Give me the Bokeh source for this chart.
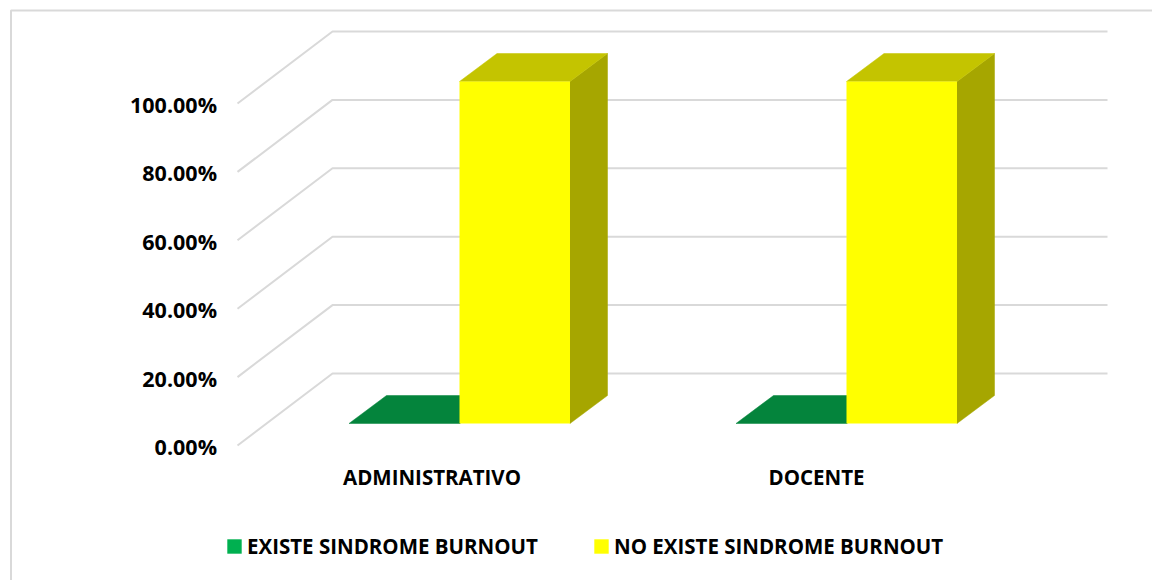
from bokeh.core.properties import value
from bokeh.embed import file_html
from bokeh.models import Legend, LegendItem, Range1d
from bokeh.plotting import figure
from bokeh.resources import INLINE

# Chart content
categories = ["ADMINISTRATIVO", "DOCENTE"]
existe = [0.0, 0.0]
no_existe = [100.0, 100.0]
series_names = ["EXISTE SINDROME BURNOUT", "NO EXISTE SINDROME BURNOUT"]
axis_ticks = [0, 20, 40, 60, 80, 100]
axis_labels = ["0.00%", "20.00%", "40.00%", "60.00%", "80.00%", "100.00%"]

WIDTH, HEIGHT = 1152, 580
PX_PER_CAT = 387.0     # pixels per category step
PX_PER_PCT = 3.42      # pixels per percentage point
ORIGIN_X, ORIGIN_Y = 459.0, 423.0  # first category centre and bar floor on the page


def cat(px):
    return px / PX_PER_CAT


def pct(px):
    return px / PX_PER_PCT


# Oblique projection of the 3D box
BAR_W = cat(110.5)
BAR_DX, BAR_DY = cat(37.5), pct(28.0)
WALL_LEFT, WALL_BACK, WALL_RIGHT = cat(-222.0), cat(-127.0), cat(648.0)
WALL_FRONT_Y, WALL_BACK_Y = pct(-22.0), pct(50.0)

FONT = value("Open Sans")
GRID = "#D9D9D9"

p = figure(
    width=WIDTH, height=HEIGHT, output_backend="svg", toolbar_location=None,
    x_range=Range1d(-ORIGIN_X / PX_PER_CAT, (WIDTH - ORIGIN_X) / PX_PER_CAT),
    y_range=Range1d(-(HEIGHT - ORIGIN_Y) / PX_PER_PCT, ORIGIN_Y / PX_PER_PCT),
    min_border=0, outline_line_color=None, background_fill_color="white",
)
p.xaxis.visible = False
p.yaxis.visible = False
p.grid.visible = False

# Chart area border, running off the page at the right and bottom
border_x = p.x_range.start + cat(10.5)
border_y = p.y_range.end - pct(10.0)
p.line([border_x, border_x, p.x_range.end], [p.y_range.start, border_y, border_y],
       line_color=GRID, line_width=2)

# Walls: horizontal lines on the back wall, oblique lines on the side wall
for t in axis_ticks:
    p.line([WALL_LEFT, WALL_BACK, WALL_RIGHT],
           [t + WALL_FRONT_Y, t + WALL_BACK_Y, t + WALL_BACK_Y],
           line_color=GRID, line_width=2)


def draw_bar(x0, v, front, roof, side):
    x1 = x0 + BAR_W
    p.patch([x1, x1 + BAR_DX, x1 + BAR_DX, x1], [0, BAR_DY, v + BAR_DY, v],
            fill_color=side, line_color=side, line_width=0.5)
    p.patch([x0, x1, x1 + BAR_DX, x0 + BAR_DX], [v, v, v + BAR_DY, v + BAR_DY],
            fill_color=roof, line_color=roof, line_width=0.5)
    return p.quad(left=[x0], right=[x1], bottom=[0], top=[v],
                  fill_color=front, line_color=None)


green = yellow = None
for i, _ in enumerate(categories):
    green = draw_bar(i - BAR_W, existe[i], "#00B050", "#04843C", "#04843C")
    yellow = draw_bar(float(i), no_existe[i], "#FFFF00", "#C4C400", "#A6A600")

# Value axis labels along the front edge of the side wall
p.text(x=[cat(-242.5)] * len(axis_ticks), y=[t + WALL_FRONT_Y - pct(1.0) for t in axis_ticks],
       text=axis_labels, text_align="right", text_baseline="middle",
       text_font=FONT, text_font_style="bold", text_font_size="21.5px", text_color="#000000")

# Category labels
p.text(x=[cat(-27.5), cat(357.0)], y=[pct(-53.0)] * 2, text=categories,
       text_align="center", text_baseline="middle",
       text_font=FONT, text_font_style="bold", text_font_size="20.5px", text_color="#000000")

legend = Legend(
    items=[LegendItem(label=series_names[0], renderers=[green]),
           LegendItem(label=series_names[1], renderers=[yellow])],
    orientation="horizontal", location=(225, 20), padding=0, margin=0, spacing=54,
    glyph_width=18, glyph_height=18, label_standoff=4, background_fill_alpha=0,
    border_line_color=None, label_text_font="Open Sans", label_text_font_style="bold",
    label_text_font_size="20.5px", label_text_color="#000000",
)
p.add_layout(legend, "center")

open("out.html", "w").write(file_html(p, INLINE))
